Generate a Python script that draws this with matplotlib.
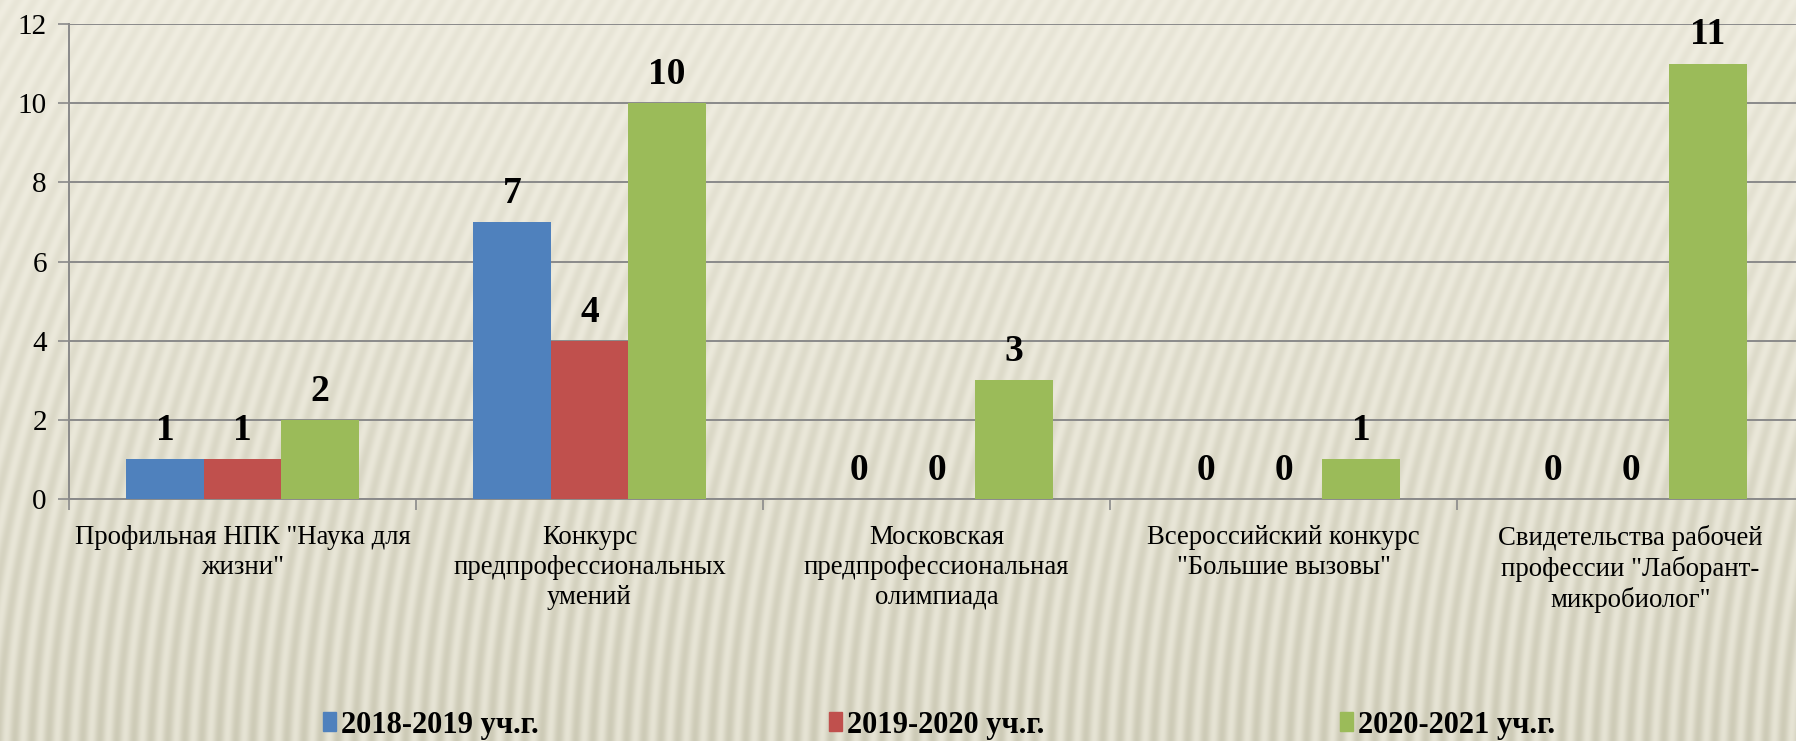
import numpy as np
import matplotlib.pyplot as plt
from matplotlib.patches import Patch

plt.rcParams['font.family'] = ['Liberation Serif', 'DejaVu Serif']

categories = [
    'Профильная НПК "Наука для\nжизни"',
    'Конкурс\nпредпрофессиональных\nумений',
    'Московская\nпредпрофессиональная\nолимпиада',
    'Всероссийский конкурс\n"Большие вызовы"',
    'Свидетельства рабочей\nпрофессии "Лаборант-\nмикробиолог"',
]
series_names = ['2018-2019 уч.г.', '2019-2020 уч.г.', '2020-2021 уч.г.']
values_2018 = [1, 7, 0, 0, 0]
values_2019 = [1, 4, 0, 0, 0]
values_2020 = [2, 10, 3, 1, 11]
colors = ['#4F81BD', '#C0504D', '#9BBB59']

W, H = 1796, 741
fig = plt.figure(figsize=(W / 100, H / 100), dpi=100)

# striped beige backdrop
bg = fig.add_axes([0, 0, 1, 1])
yy, xx = np.mgrid[0:H, 0:W].astype(float)
t = yy / H
u = xx + 0.6 * yy - 0.275 * yy ** 2 / H
stripe = 0.5 + 0.5 * np.cos(2 * np.pi * u / 17.0)
top = np.array([0.94, 0.93, 0.88])
bottom = np.array([0.90, 0.89, 0.83])
base = top[None, None, :] * (1 - t[..., None]) + bottom[None, None, :] * t[..., None]
amp = (0.03 + 0.065 * t ** 1.5)[..., None]
img = base - amp * stripe[..., None] * np.array([1.0, 1.0, 1.2])
bg.imshow(np.clip(img, 0, 1), aspect='auto', interpolation='bilinear')
bg.axis('off')

ax = fig.add_axes([69 / W, 1 - 499 / H, (1804 - 69) / W, (499 - 24) / H])
ax.patch.set_alpha(0)

x = np.arange(len(categories))
width = 0.223
for i, (vals, name) in enumerate(zip([values_2018, values_2019, values_2020], series_names)):
    bars = ax.bar(x + (i - 1) * width, vals, width, color=colors[i], label=name, zorder=3)
    ax.bar_label(bars, padding=8, fontsize=27, fontweight='bold', color='black')

ax.set_ylim(0, 12)
ax.set_xlim(-0.5, len(categories) - 0.5)
ax.set_yticks(range(0, 13, 2))
ax.yaxis.grid(True, color='#8a8a8a', linewidth=1.4, zorder=0)
ax.tick_params(axis='y', labelsize=21, length=8, width=1.2, color='#8a8a8a', pad=8)

ax.set_xticks(x)
ax.set_xticklabels(categories, fontsize=19.3, linespacing=1.26)
ax.tick_params(axis='x', which='major', length=0, pad=18.5)
ax.set_xticks(np.arange(len(categories) + 1) - 0.5, minor=True)
ax.tick_params(axis='x', which='minor', length=8, width=1.2, color='#8a8a8a')

for side in ['top', 'right']:
    ax.spines[side].set_visible(False)
for side in ['left', 'bottom']:
    ax.spines[side].set_color('#8a8a8a')
    ax.spines[side].set_linewidth(1.4)

# legend entries spread along the bottom
legend_x = [323, 829, 1340]
for name, col, lx in zip(series_names, colors, legend_x):
    fig.legend(handles=[Patch(color=col)], labels=[name], loc='center left',
               bbox_to_anchor=(lx / W - 0.007, 1 - 725 / H), frameon=False,
               prop={'size': 22, 'weight': 'bold'}, handlelength=0.45,
               handleheight=0.55, handletextpad=0.15, borderaxespad=0)

fig.savefig('out.png', dpi=100)
